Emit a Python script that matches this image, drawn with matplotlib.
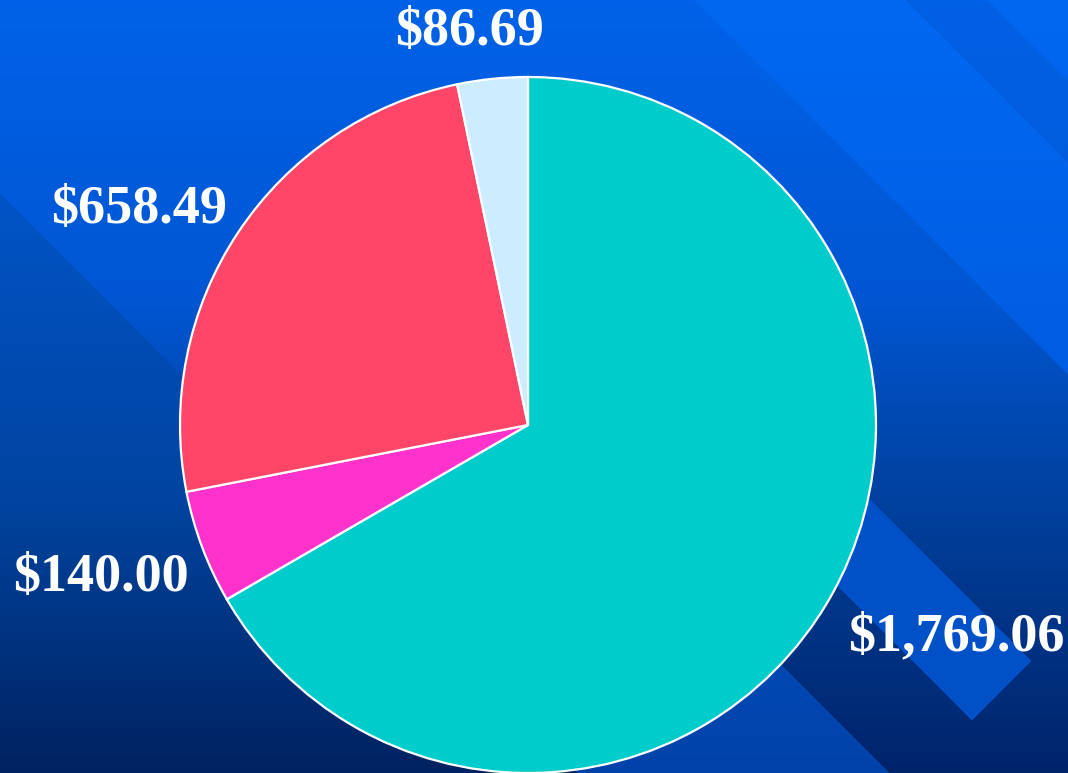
import numpy as np
import matplotlib
matplotlib.use('Agg')
import matplotlib.pyplot as plt
from matplotlib.colors import to_rgb

# chart data
amounts = [1769.06, 140.00, 658.49, 86.69]
slice_colors = ['#00CCCC', '#FF33CC', '#FF4669', '#CCECFF']

# label placement in pixels (left, baseline) measured from top-left
label_pos = [(848, 650), (13, 591), (51, 223), (395, 45)]

W, H = 1068, 773


def vgrad(ys, stops):
    # vertical gradient from (y, color) stops
    sy = [s[0] for s in stops]
    cols = np.array([to_rgb(s[1]) for s in stops])
    out = np.zeros((len(ys), 3))
    for k in range(3):
        out[:, k] = np.interp(ys, sy, cols[:, k])
    return out


def make_background():
    yy, xx = np.mgrid[0:H, 0:W].astype(float)
    s = yy - xx
    ys = np.arange(H)
    lvl0 = vgrad(ys, [(0, '#0068F2'), (400, '#005CE0'), (773, '#0050C4')])
    lvl1 = vgrad(ys, [(0, '#0062E8'), (300, '#0056D2'), (450, '#0046AA'),
                      (600, '#00368A'), (773, '#00246A')])
    lvl2 = vgrad(ys, [(0, '#005CDC'), (150, '#0056CC'), (500, '#0044A0'),
                      (773, '#002260')])
    bandb = vgrad(ys, [(0, '#0060E4'), (200, '#005CDC')])
    low = vgrad(ys, [(600, '#004CBC'), (773, '#0042A8')])

    img = np.repeat(lvl1[:, None, :], W, axis=1)
    m0 = s < -693
    img[m0] = np.repeat(lvl0[:, None, :], W, axis=1)[m0]
    mb = (s > -988) & (s < -905)
    img[mb] = np.repeat(bandb[:, None, :], W, axis=1)[mb]
    m2 = s > 193
    img[m2] = np.repeat(lvl2[:, None, :], W, axis=1)[m2]
    md = (s > -371) & (s < -251) & (xx + yy < 1692) & (xx + yy > 1000)
    img[md] = to_rgb('#0050C8')
    ml = (s > -117) & (s < 196) & (xx + yy > 1250)
    img[ml] = np.repeat(low[:, None, :], W, axis=1)[ml]
    return img


fig = plt.figure(figsize=(W / 100, H / 100), dpi=100)

bg = fig.add_axes([0, 0, 1, 1])
bg.imshow(make_background(), extent=(0, W, H, 0), aspect='auto', interpolation='nearest')
bg.set_xlim(0, W)
bg.set_ylim(H, 0)
bg.axis('off')

# pie centred at (528, 425) px with radius 348 px
cx, cy, r = 528, 425, 348
ax = fig.add_axes([(cx - r) / W, (H - cy - r) / H, 2 * r / W, 2 * r / H])
ax.pie(amounts, colors=slice_colors, startangle=90, counterclock=False,
       radius=1.0, wedgeprops=dict(edgecolor='white', linewidth=1.6))
ax.set_xlim(-1, 1)
ax.set_ylim(-1, 1)
ax.set_aspect('equal')
ax.axis('off')

for v, (px, py) in zip(amounts, label_pos):
    bg.text(px, py, f'${v:,.2f}', ha='left', va='baseline', color='white',
            fontsize=39, fontweight='bold', family=['Liberation Serif', 'DejaVu Serif'])

fig.savefig('out.png', dpi=100)
